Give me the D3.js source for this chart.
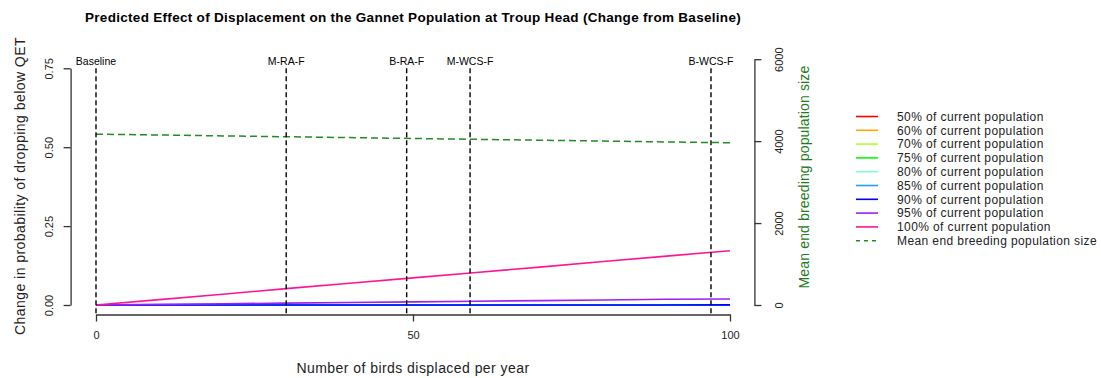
<!DOCTYPE html>
<html>
<head>
<meta charset="utf-8">
<script src="https://cdn.jsdelivr.net/npm/d3@7"></script>
<style>
  html, body { margin: 0; padding: 0; background: #fff; }
  svg { display: block; font-family: "Liberation Sans", Arial, sans-serif; }
</style>
</head>
<body>
<svg id="chart" width="1101" height="378"></svg>
<script>
// ---------- data ----------
const birdsDisplaced = [0, 10, 20, 30, 40, 50, 60, 70, 80, 90, 100];
const pop50  = [0, 0, 0, 0, 0, 0, 0, 0, 0, 0, 0];
const pop60  = [0, 0, 0, 0, 0, 0, 0, 0, 0, 0, 0];
const pop70  = [0, 0, 0, 0, 0, 0, 0, 0, 0, 0, 0];
const pop75  = [0, 0, 0, 0, 0, 0, 0, 0, 0, 0, 0];
const pop80  = [0, 0, 0, 0, 0, 0, 0, 0, 0, 0, 0];
const pop85  = [0, 0, 0, 0, 0, 0, 0, 0, 0, 0, 0];
const pop90  = [0, 0, 0, 0, 0, 0, 0, 0, 0, 0, 0.0005];
const pop95  = [0, 0.002, 0.004, 0.006, 0.008, 0.010, 0.012, 0.014, 0.016, 0.018, 0.019];
const pop100 = [0, 0.017, 0.034, 0.052, 0.069, 0.086, 0.103, 0.120, 0.138, 0.155, 0.172];
const meanPopSize = [4170, 4150, 4128, 4107, 4086, 4065, 4044, 4023, 4002, 3981, 3960];

const seriesNames = ["50% of current population", "60% of current population", "70% of current population",
  "75% of current population", "80% of current population", "85% of current population",
  "90% of current population", "95% of current population", "100% of current population"];
const seriesColors = ["#FF0000", "#FFA500", "#ADFF2F", "#00FF00", "#7FFFD4", "#1EA0FF", "#0000FF", "#A020F0", "#FF1493"];
const seriesValues = [pop50, pop60, pop70, pop75, pop80, pop85, pop90, pop95, pop100];

const markerLabels = ["Baseline", "M-RA-F", "B-RA-F", "M-WCS-F", "B-WCS-F"];
const markerPositions = [0, 30, 49, 59, 97];

const xTicks = [0, 50, 100];
const yLeftTicks = [0, 0.25, 0.5, 0.75];
const yRightTicks = [0, 2000, 4000, 6000];

const titleText = "Predicted Effect of Displacement on the Gannet Population at Troup Head (Change from Baseline)";
const xLabel = "Number of birds displaced per year";
const yLeftLabel = "Change in probability of dropping below QET";
const yRightLabel = "Mean end breeding population size";
const meanLegend = "Mean end breeding population size";

// ---------- layout ----------
const svg = d3.select("#chart");
const plotLeft = 70.6, plotRight = 755.4, plotTop = 58.8, plotBottom = 314.5;

const x = d3.scaleLinear().domain([0, 100]).range([96, 730]);
const yL = d3.scaleLinear().domain([0, 0.75]).range([305, 68.3]);
const yR = d3.scaleLinear().domain([0, 6000]).range([305, 59.2]);

const axisColor = "#333";
const textColor = "#222";

// title
svg.append("text").attr("x", 413).attr("y", 22).attr("text-anchor", "middle")
  .attr("font-weight", "bold").attr("font-size", 13.5).attr("letter-spacing", 0.3)
  .attr("fill", "#000").text(titleText);

// series lines
const line = d3.line().x((d, i) => x(birdsDisplaced[i])).y(d => yL(d));
seriesValues.forEach((vals, k) => {
  svg.append("path").datum(vals).attr("d", line).attr("fill", "none")
    .attr("stroke", seriesColors[k]).attr("stroke-width", 1.6);
});

// mean population (right axis)
const lineR = d3.line().x((d, i) => x(birdsDisplaced[i])).y(d => yR(d));
svg.append("path").datum(meanPopSize).attr("d", lineR).attr("fill", "none")
  .attr("stroke", "#228B22").attr("stroke-width", 1.5).attr("stroke-dasharray", "7,4");

// vertical markers
markerPositions.forEach((p, i) => {
  svg.append("line").attr("x1", x(p)).attr("x2", x(p)).attr("y1", yL(0.75)).attr("y2", plotBottom)
    .attr("stroke", "#000").attr("stroke-width", 1.4).attr("stroke-dasharray", "5,3");
  svg.append("text").attr("x", x(p)).attr("y", 64.5).attr("text-anchor", "middle")
    .attr("font-size", 10.5).attr("fill", "#000").text(markerLabels[i]);
});

// x axis
const gx = svg.append("g").attr("transform", `translate(0,${plotBottom})`)
  .call(d3.axisBottom(x).tickValues(xTicks).tickSize(7).tickSizeOuter(0).tickFormat(d3.format("d")));
gx.select(".domain").attr("stroke", axisColor).attr("stroke-width", 1.3);
gx.selectAll(".tick line").attr("stroke", axisColor).attr("stroke-width", 1.3);
gx.selectAll(".tick text").attr("font-size", 11).attr("fill", textColor).attr("y", 21).attr("dy", "0.35em");

// left y axis
const gyl = svg.append("g").attr("transform", `translate(${plotLeft},0)`)
  .call(d3.axisLeft(yL).tickValues(yLeftTicks).tickSize(7).tickSizeOuter(0).tickFormat(d3.format(".2f")));
gyl.select(".domain").attr("stroke", axisColor).attr("stroke-width", 1.3);
gyl.selectAll(".tick line").attr("stroke", axisColor).attr("stroke-width", 1.3);
gyl.selectAll(".tick text").attr("font-size", 11).attr("fill", textColor)
  .attr("transform", "rotate(-90)").attr("x", 0).attr("y", -21).attr("dy", "0.35em").attr("text-anchor", "middle");

// right y axis
const gyr = svg.append("g").attr("transform", `translate(${plotRight - 1},0)`)
  .call(d3.axisRight(yR).tickValues(yRightTicks).tickSize(7).tickSizeOuter(0).tickFormat(d3.format("d")));
gyr.select(".domain").attr("stroke", axisColor).attr("stroke-width", 1.3);
gyr.selectAll(".tick line").attr("stroke", axisColor).attr("stroke-width", 1.3);
gyr.selectAll(".tick text").attr("font-size", 11).attr("fill", textColor)
  .attr("transform", "rotate(-90)").attr("x", 0).attr("y", 25).attr("dy", "0.35em").attr("text-anchor", "middle");

// axis labels
svg.append("text").attr("x", 413).attr("y", 373).attr("text-anchor", "middle")
  .attr("font-size", 14).attr("letter-spacing", 0.45).attr("fill", textColor).text(xLabel);
svg.append("text").attr("transform", "translate(20,186) rotate(-90)").attr("text-anchor", "middle")
  .attr("dy", "0.35em").attr("font-size", 14).attr("letter-spacing", 0.45).attr("fill", textColor).text(yLeftLabel);
svg.append("text").attr("transform", "translate(804,177) rotate(-90)").attr("text-anchor", "middle")
  .attr("dy", "0.35em").attr("font-size", 14).attr("letter-spacing", 0.15).attr("fill", "#1E7B1E").text(yRightLabel);

// legend
const legX1 = 856, legX2 = 878, legTX = 897, legY0 = 116.5, legDY = 13.8;
seriesNames.forEach((name, i) => {
  const yy = legY0 + i * legDY;
  svg.append("line").attr("x1", legX1).attr("x2", legX2).attr("y1", yy).attr("y2", yy)
    .attr("stroke", seriesColors[i]).attr("stroke-width", 1.6);
  svg.append("text").attr("x", legTX).attr("y", yy).attr("dy", "0.35em")
    .attr("font-size", 12).attr("letter-spacing", 0.4).attr("fill", textColor).text(name);
});
{
  const yy = legY0 + seriesNames.length * legDY;
  svg.append("line").attr("x1", legX1).attr("x2", legX2).attr("y1", yy).attr("y2", yy)
    .attr("stroke", "#228B22").attr("stroke-width", 1.5).attr("stroke-dasharray", "4,4");
  svg.append("text").attr("x", legTX).attr("y", yy).attr("dy", "0.35em")
    .attr("font-size", 12).attr("letter-spacing", 0.4).attr("fill", textColor).text(meanLegend);
}
</script>
</body>
</html>
